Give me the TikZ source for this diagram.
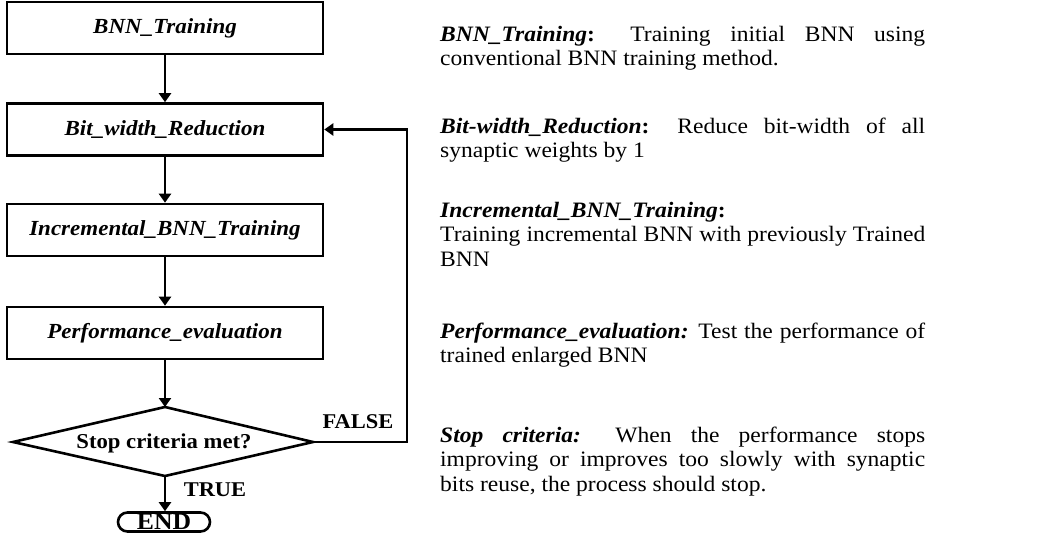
\documentclass[tikz,border=0pt]{standalone}
\usepackage{fontspec}
\setmainfont[FakeStretch=1.07]{Liberation Serif}
\usetikzlibrary{shapes.misc,arrows.meta}
\begin{document}
\begin{tikzpicture}[x=1pt,y=-1pt,
  box/.style={draw,line width=2.6pt,minimum width=316pt,minimum height=52pt,inner sep=0pt,font=\fontsize{21.5}{23}\selectfont\bfseries\itshape},
  arr/.style={line width=2.6pt,-{Triangle[width=12pt,length=9pt]}},
  desc/.style={anchor=north west,text width=485pt,align=justify,inner sep=0pt,font=\fontsize{22}{24.3}\selectfont},
  lbl/.style={font=\fontsize{21}{22}\selectfont\bfseries}]
\useasboundingbox (0,0) rectangle (1039,537);
\node[box] (b1) at (165,28) {BNN\_Training};
\node[box] (b2) at (165,129.5) {Bit\_width\_Reduction};
\node[box] (b3) at (165,230) {Incremental\_BNN\_Training};
\node[box] (b4) at (165,333) {Performance\_evaluation};
\coordinate (dn) at (165,407);
\coordinate (de) at (313,442);
\coordinate (ds) at (165,476);
\coordinate (dw) at (13,442);
\draw[line width=2.6pt,line join=miter] (dn) -- (de) -- (ds) -- (dw) -- cycle;
\node[font=\fontsize{21.2}{22}\selectfont\bfseries] (d) at (164,443) {Stop criteria met?};
\node[rounded rectangle,draw,line width=2.6pt,minimum width=92pt,minimum height=19pt,text height=15pt,text depth=0pt,inner sep=0pt,font=\fontsize{24}{24}\selectfont\bfseries] (e) at (164,522) {END};
\coordinate (c1) at (407,442);
\coordinate (c2) at (407,129.5);
\draw[arr] (b1) -- (b2);
\draw[arr] (b2) -- (b3);
\draw[arr] (b3) -- (b4);
\draw[arr] (b4) -- (dn);
\draw[arr] (ds) -- (ds |- e.north);
\draw[arr] (de) -- (c1) -- (c2) -- (b2.east);
\node[lbl] (f) at (358,421.5) {FALSE};
\node[lbl] (t) at (215,490) {TRUE};
\node[desc] (p1) at (440,25.7) {\textbf{\textit{BNN\_Training}}\textbf{:} Training initial BNN using\linebreak conventional BNN training method.};
\node[desc] (p2) at (440,118) {\textbf{\textit{Bit-width\_Reduction}}\textbf{:} Reduce bit-width of all\linebreak synaptic weights by 1};
\node[desc] (p3) at (440,202) {\textbf{\textit{Incremental\_BNN\_Training}}\textbf{:}\\ Training incremental BNN with previously Trained\linebreak BNN};
\node[desc] (p4) at (440,323) {\textbf{\textit{Performance\_evaluation:}} Test the performance of\linebreak trained enlarged BNN};
\node[desc] (p5) at (440,427) {\textbf{\textit{Stop criteria:}} When the performance stops\linebreak improving or improves too slowly with synaptic\linebreak bits reuse, the process should stop.};
\end{tikzpicture}
\end{document}
